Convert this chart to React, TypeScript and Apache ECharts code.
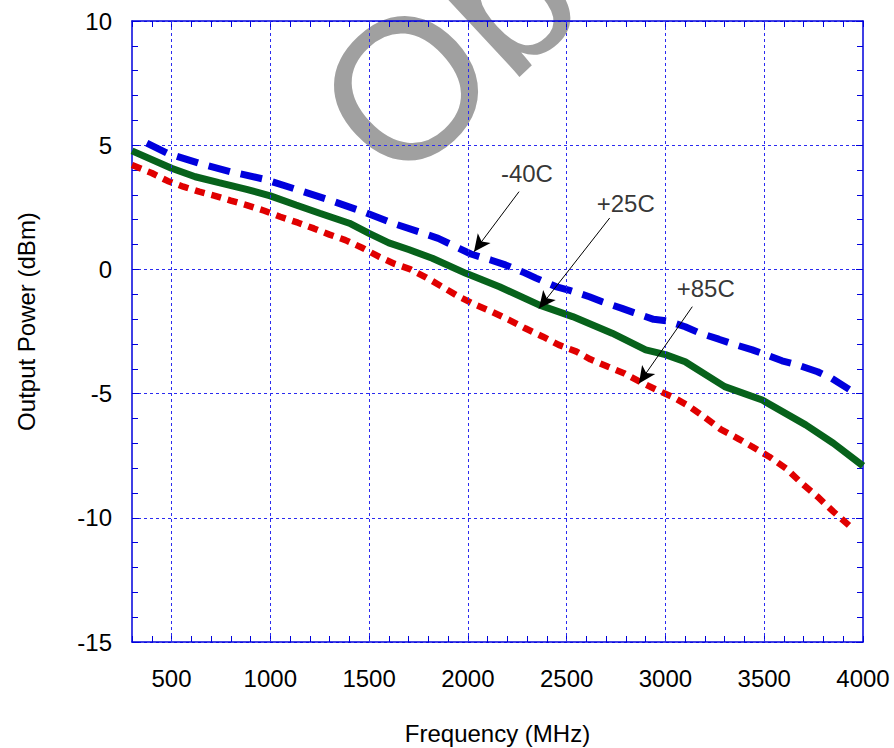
import React, { useEffect, useRef } from "react";
import * as echarts from "echarts";

// ---- data ----
const minusFortyFreq = [375, 480, 640, 800, 970, 1140, 1300, 1470, 1630, 1750, 1850, 1955, 2015, 2115, 2190, 2285, 2345, 2445, 2510, 2615, 2680, 2780, 2840, 2940, 3010, 3100, 3170, 3270, 3340, 3440, 3500, 3590, 3670, 3770, 3840, 3930];
const minusFortyPower = [5.08, 4.67, 4.27, 3.93, 3.63, 3.2, 2.79, 2.32, 1.83, 1.52, 1.25, 0.85, 0.62, 0.38, 0.18, -0.13, -0.35, -0.69, -0.83, -1.1, -1.3, -1.57, -1.74, -2.01, -2.07, -2.31, -2.55, -2.81, -3.0, -3.24, -3.41, -3.68, -3.85, -4.12, -4.38, -4.83];

const plusTwentyFiveFreq = [300, 500, 620, 740, 880, 1000, 1130, 1250, 1400, 1500, 1600, 1700, 1820, 1990, 2160, 2360, 2530, 2730, 2900, 3000, 3100, 3140, 3300, 3490, 3710, 3850, 4000];
const plusTwentyFivePower = [4.77, 4.07, 3.73, 3.49, 3.22, 2.96, 2.59, 2.26, 1.86, 1.45, 1.07, 0.8, 0.45, -0.16, -0.7, -1.43, -1.9, -2.57, -3.24, -3.43, -3.72, -3.92, -4.72, -5.26, -6.26, -7.0, -7.91];

const plusEightyFiveFreq = [300, 400, 480, 560, 640, 720, 800, 880, 970, 1050, 1140, 1220, 1300, 1380, 1470, 1550, 1630, 1710, 1790, 1870, 1955, 2040, 2120, 2210, 2290, 2380, 2460, 2550, 2620, 2710, 2790, 2870, 2950, 3035, 3110, 3195, 3280, 3365, 3440, 3525, 3610, 3690, 3770, 3850, 3950];
const plusEightyFivePower = [4.2, 3.88, 3.56, 3.33, 3.13, 2.96, 2.77, 2.59, 2.36, 2.12, 1.88, 1.65, 1.4, 1.18, 0.85, 0.51, 0.22, 0.0, -0.33, -0.7, -1.1, -1.43, -1.7, -2.04, -2.37, -2.71, -3.04, -3.31, -3.62, -3.92, -4.18, -4.52, -4.83, -5.13, -5.46, -5.93, -6.44, -6.8, -7.14, -7.54, -8.01, -8.61, -9.15, -9.75, -10.45];

const xMajorTicks = [500, 1000, 1500, 2000, 2500, 3000, 3500, 4000];
const xMinorTicks = Array.from({ length: 38 }, (_, i) => 300 + i * 100);

const annotationLabels = ["-40C", "+25C", "+85C"];
const annotationTextAt = [[2299, 3.88], [2799, 2.67], [3204, -0.75]];
const annotationArrowFrom = [[2259, 3.13], [2718, 2.07], [3136, -1.5]];
const annotationArrowTo = [[2031, 0.71], [2360, -1.57], [2866, -4.59]];

const FONT = '"Liberation Sans", Arial, Helvetica, sans-serif';
const AXIS_BLUE = "#0000dd";
const GRID_BLUE = "#2b2bf0";

const zip = (a: number[], b: number[]) => a.map((v, i) => [v, b[i]]);

export default function App() {
  const ref = useRef<HTMLDivElement>(null);
  useEffect(() => {
    document.body.style.margin = "0";
    if (!ref.current) return;
    const chart = echarts.init(ref.current, null, { renderer: "svg" });
    const labelStyle = { color: "#000", fontSize: 24, fontFamily: FONT };
    chart.setOption({
      animation: false,
      backgroundColor: "#fff",
      grid: { left: 132, top: 21, width: 731, height: 621, containLabel: false, outerBoundsMode: "none" },
      graphic: [
        {
          type: "text",
          x: 349,
          y: 141,
          rotation: (43 * Math.PI) / 180,
          z: -10,
          silent: true,
          style: {
            text: "Obsolete",
            fontSize: 200,
            fontFamily: FONT,
            fill: "#a0a0a0",
            align: "left",
            verticalAlign: "middle",
            textAlign: "left",
            textVerticalAlign: "middle",
          },
        },
      ],
      xAxis: [
        {
          type: "value",
          min: 300,
          max: 4000,
          position: "bottom",
          axisLine: { show: true, onZero: false, lineStyle: { color: AXIS_BLUE, width: 1.5 } },
          axisTick: { show: true, inside: true, length: 6, customValues: xMinorTicks, lineStyle: { color: AXIS_BLUE } },
          axisLabel: {
            ...labelStyle,
            margin: 24,
            customValues: xMajorTicks,
            formatter: (v: number) => String(v),
          },
          splitLine: { show: false },
          name: "Frequency (MHz)",
          nameLocation: "middle",
          nameGap: 79,
          nameTextStyle: labelStyle,
        },
        {
          type: "value",
          min: 300,
          max: 4000,
          position: "top",
          axisLine: { show: true, onZero: false, lineStyle: { color: AXIS_BLUE, width: 1.5 } },
          axisTick: { show: true, inside: true, length: 6, customValues: xMinorTicks, lineStyle: { color: AXIS_BLUE } },
          axisLabel: { show: false },
          splitLine: { show: false },
        },
      ],
      yAxis: [
        {
          type: "value",
          min: -15,
          max: 10,
          interval: 5,
          position: "left",
          axisLine: { show: true, onZero: false, lineStyle: { color: AXIS_BLUE, width: 1.5 } },
          axisTick: { show: true, inside: true, length: 7, lineStyle: { color: AXIS_BLUE } },
          minorTick: { show: true, splitNumber: 5, length: 6, lineStyle: { color: AXIS_BLUE } },
          splitLine: { show: true, lineStyle: { color: GRID_BLUE, width: 1, type: [3, 3] } },
          axisLabel: { ...labelStyle, margin: 20 },
          name: "Output Power (dBm)",
          nameLocation: "middle",
          nameGap: 94,
          nameTextStyle: { ...labelStyle, padding: [0, 0, 0, 20] },
        },
        {
          type: "value",
          min: -15,
          max: 10,
          interval: 5,
          position: "right",
          axisLine: { show: true, onZero: false, lineStyle: { color: AXIS_BLUE, width: 1.5 } },
          axisTick: { show: true, inside: true, length: 7, lineStyle: { color: AXIS_BLUE } },
          minorTick: { show: true, splitNumber: 5, length: 6, lineStyle: { color: AXIS_BLUE } },
          splitLine: { show: false },
          axisLabel: { show: false },
        },
      ],
      series: [
        {
          name: "grid",
          type: "line",
          data: [],
          z: 1,
          silent: true,
          markLine: {
            silent: true,
            symbol: ["none", "none"],
            label: { show: false },
            lineStyle: { color: GRID_BLUE, width: 1, type: [3, 3] },
            data: xMajorTicks.slice(0, -1).map((v) => ({ xAxis: v })),
          },
        },
        {
          name: "-40C",
          type: "line",
          data: zip(minusFortyFreq, minusFortyPower),
          showSymbol: false,
          symbol: "none",
          lineStyle: { color: "#0000dd", width: 7, type: [22, 11], cap: "butt" },
          z: 3,
        },
        {
          name: "+25C",
          type: "line",
          data: zip(plusTwentyFiveFreq, plusTwentyFivePower),
          showSymbol: false,
          symbol: "none",
          lineStyle: { color: "#07621b", width: 7, type: "solid" },
          z: 3,
        },
        {
          name: "+85C",
          type: "line",
          data: zip(plusEightyFiveFreq, plusEightyFivePower),
          showSymbol: false,
          symbol: "none",
          lineStyle: { color: "#e00000", width: 6.5, type: [10, 7], cap: "butt" },
          z: 3,
        },
        {
          name: "annotations",
          type: "scatter",
          symbolSize: 0,
          silent: true,
          z: 4,
          data: annotationLabels.map((t, i) => ({ name: t, value: annotationTextAt[i] })),
          label: {
            show: true,
            position: "inside",
            formatter: "{b}",
            ...labelStyle,
          },
          markLine: {
            silent: true,
            symbol: ["none", "arrow"],
            symbolSize: [12, 17],
            label: { show: false },
            lineStyle: { color: "#000", width: 1, type: "solid" },
            itemStyle: { color: "#000" },
            data: annotationArrowFrom.map((p, i) => [
              { coord: p },
              { coord: annotationArrowTo[i] },
            ]),
          },
        },
      ],
    });
    return () => chart.dispose();
  }, []);
  return <div ref={ref} style={{ width: 894, height: 748 }} />;
}
